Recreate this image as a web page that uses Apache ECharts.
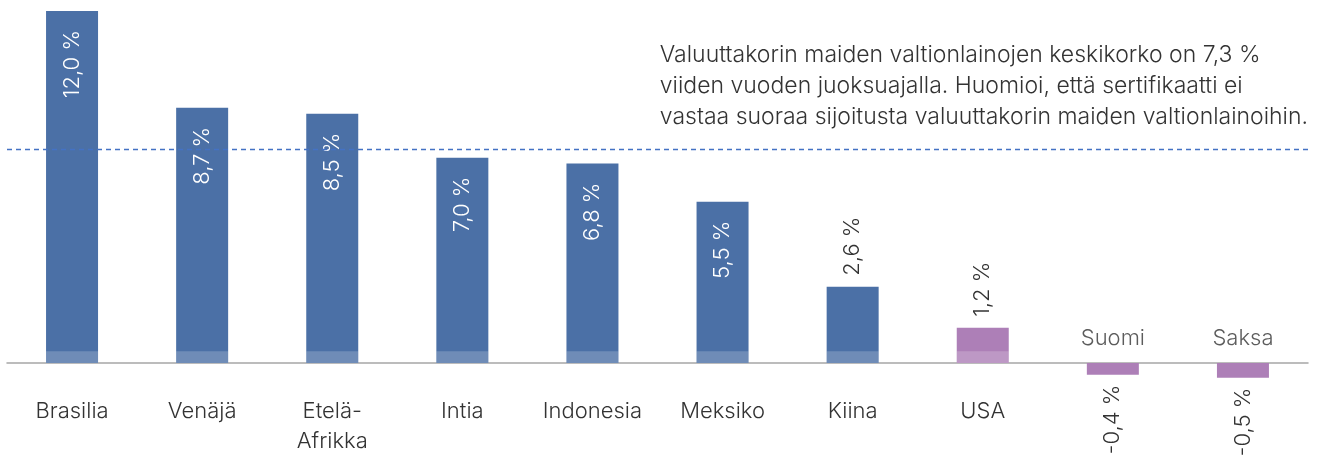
<!DOCTYPE html>
<html><head><meta charset="utf-8">
<script src="https://cdn.jsdelivr.net/npm/echarts@6/dist/echarts.min.js"></script>
<style>html,body{margin:0;padding:0;background:#fff}#c{width:1318px;height:456px}</style>
</head><body><div id="c"></div>
<script>
const categories = ['Brasilia','Venäjä','Etelä-\nAfrikka','Intia','Indonesia','Meksiko','Kiina','USA','Suomi','Saksa'];
const yields = [12.0, 8.7, 8.5, 7.0, 6.8, 5.5, 2.6, 1.2, -0.4, -0.5];
const groups = ['EM','EM','EM','EM','EM','EM','EM','DM','DM','DM'];
const basketAverage = 7.3;
const note = 'Valuuttakorin maiden valtionlainojen keskikorko on 7,3 %\nviiden vuoden juoksuajalla. Huomioi, että sertifikaatti ei\nvastaa suoraa sijoitusta valuuttakorin maiden valtionlainoihin.';

const FONT = 'Inter';
const FW = 300;
const FS = 22;
const TXT = '#333';
const BLUE = '#4b70a6', PURPLE = '#ad7fb7', DASH = '#4472c4';
const fmt = v => v.toFixed(1).replace('.', ',') + ' %';

const mainData = yields.map((v, i) => {
  const item = { value: v, itemStyle: { color: groups[i] === 'EM' ? BLUE : PURPLE } };
  if (v < 0) {
    item.label = { position: 'bottom', align: 'right', distance: 10, color: TXT };
  } else if (v < 4) {
    item.label = { position: 'top', align: 'left', distance: 11, color: TXT };
  }
  return item;
});
const bandData = yields.map(v => v > 0 ? Math.min(v, 0.4) : null);
const negNames = yields.map((v, i) => v < 0 ? [i, 0] : null).filter(d => d);

const chart = echarts.init(document.getElementById('c'));
chart.setOption({
  animation: false,
  color: [DASH],
  textStyle: { fontFamily: FONT, fontWeight: FW },
  grid: { left: 7, right: 10, top: 11, bottom: 63.67, containLabel: false, outerBoundsMode: 'none' },
  xAxis: {
    type: 'category', data: categories,
    axisTick: { show: false },
    axisLine: { onZero: true, lineStyle: { color: '#a6a6a6', width: 1.5 } },
    axisLabel: {
      margin: 4, fontSize: FS, color: TXT, fontFamily: FONT, fontWeight: FW, lineHeight: 30, interval: 0,
      formatter: (val, idx) => yields[idx] < 0 ? '' : val
    }
  },
  yAxis: { type: 'value', min: -1, max: 12, show: false, splitLine: { show: false } },
  series: [
    {
      type: 'bar', data: mainData, barWidth: 52,
      label: {
        show: true, position: 'insideTop', rotate: 90, align: 'right', verticalAlign: 'middle',
        distance: 19, fontSize: FS, color: '#fff', fontFamily: FONT, fontWeight: FW,
        formatter: p => fmt(p.value)
      },
      z: 2
    },
    {
      type: 'bar', data: bandData, barWidth: 52, barGap: '-100%',
      itemStyle: { color: 'rgba(255,255,255,0.2)' }, silent: true, z: 3
    },
    {
      type: 'scatter', data: negNames, symbolSize: 0,
      itemStyle: { color: DASH },
      label: {
        show: true, position: 'top', distance: 14, fontSize: FS, color: TXT, fontFamily: FONT, fontWeight: FW,
        formatter: p => categories[p.value[0]]
      },
      markLine: {
        silent: true, symbol: ['none', 'none'], label: { show: false },
        itemStyle: { color: DASH },
        lineStyle: { type: [5, 4], color: DASH, width: 1.3, opacity: 1 },
        emphasis: { disabled: true },
        data: [{ yAxis: basketAverage, lineStyle: { color: DASH, type: [5, 4], width: 1.3 } }]
      }
    }
  ],
  graphic: [{
    type: 'text', right: 10, top: 40,
    style: { text: note, font: FW + ' 23px "Inter"', fill: TXT, align: 'right', lineHeight: 31 }
  }]
});
</script></body></html>
